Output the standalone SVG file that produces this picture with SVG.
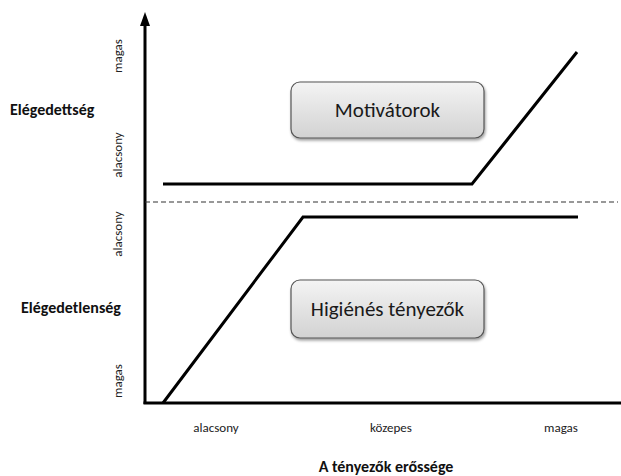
<svg xmlns="http://www.w3.org/2000/svg" width="621" height="476" viewBox="0 0 621 476">
  <defs>
    <linearGradient id="boxFill" x1="0" y1="0" x2="0" y2="1">
      <stop offset="0" stop-color="#f4f4f4"/>
      <stop offset="1" stop-color="#d2d2d2"/>
    </linearGradient>
    <filter id="shadow" x="-10%" y="-20%" width="120%" height="150%">
      <feGaussianBlur in="SourceAlpha" stdDeviation="1.5"/>
      <feOffset dx="1" dy="2" result="b"/>
      <feComponentTransfer><feFuncA type="linear" slope="0.4"/></feComponentTransfer>
      <feMerge><feMergeNode/><feMergeNode in="SourceGraphic"/></feMerge>
    </filter>
    <marker id="arrow" markerWidth="14" markerHeight="10" refX="1" refY="5" orient="auto" markerUnits="userSpaceOnUse" viewBox="0 0 14 10">
      <path d="M0,0 L14,5 L0,10 Z" fill="#000"/>
    </marker>
  </defs>
  <style>
    .axis { stroke: #000; stroke-width: 3; fill: none; }
    .curve { stroke: #000; stroke-width: 3; fill: none; stroke-linejoin: miter; }
    .dash { stroke: #333; stroke-width: 1.2; stroke-dasharray: 5 3; fill: none; }
    .box { fill: url(#boxFill); stroke: #555; stroke-width: 1.2; filter: url(#shadow); }
    .boxtxt { font-family: Calibri, Carlito, "Open Sans", "Liberation Sans", sans-serif; font-size: 21px; fill: #1a1a1a; text-anchor: middle; }
    .tick { font-family: Calibri, Carlito, "Open Sans", "Liberation Sans", sans-serif; font-size: 13px; fill: #222; text-anchor: middle; }
    .title { font-family: Calibri, Carlito, "Open Sans", "Liberation Sans", sans-serif; font-size: 16px; font-weight: bold; fill: #111; }
  </style>

  <rect width="621" height="476" fill="#fff"/>

  <!-- axes, reference lines and curves -->
  <g id="connectors">
    <line class="axis" x1="145" y1="404" x2="145" y2="25" marker-end="url(#arrow)"/>
    <line class="axis" x1="143.5" y1="403" x2="625" y2="403"/>
    <line class="dash" x1="145" y1="202" x2="618" y2="202"/>
    <polyline class="curve" points="163,184 472,184 577,52"/>
    <polyline class="curve" points="163,403 303,217 578,217"/>
  </g>

  <g id="motivatorok">
    <rect class="box" x="291" y="82" width="193" height="56" rx="9" ry="9"/>
    <text class="boxtxt" x="387.5" y="117">Motivátorok</text>
  </g>

  <g id="higienes">
    <rect class="box" x="291" y="280" width="193" height="58" rx="9" ry="9"/>
    <text class="boxtxt" x="387.5" y="316">Higiénés tényezők</text>
  </g>

  <!-- vertical axis labels -->
  <g id="y-labels">
    <text class="title" x="10" y="115">Elégedettség</text>
    <text class="title" x="21" y="313">Elégedetlenség</text>
    <text class="tick" transform="translate(122,56) rotate(-90)">magas</text>
    <text class="tick" transform="translate(122,155) rotate(-90)">alacsony</text>
    <text class="tick" transform="translate(122,234) rotate(-90)">alacsony</text>
    <text class="tick" transform="translate(122,381) rotate(-90)">magas</text>
  </g>

  <!-- horizontal axis labels -->
  <g id="x-labels">
    <text class="tick" x="216" y="432">alacsony</text>
    <text class="tick" x="391" y="432">közepes</text>
    <text class="tick" x="561" y="432">magas</text>
    <text class="title" x="386" y="472" text-anchor="middle">A tényezők erőssége</text>
  </g>
</svg>
